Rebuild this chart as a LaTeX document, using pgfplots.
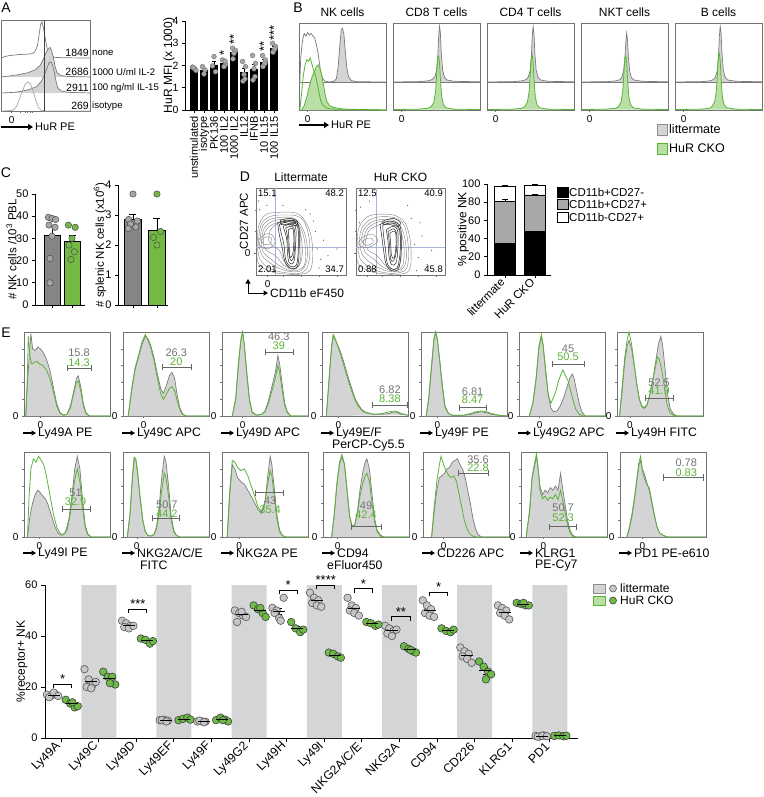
\documentclass[border=0pt]{standalone}
\usepackage{fontspec}
\setmainfont{Liberation Sans}
\setsansfont{Liberation Sans}
\usepackage{pgfplots}
\pgfplotsset{compat=1.18}
\usetikzlibrary{arrows.meta}

\definecolor{hgray}{HTML}{D4D4D4}
\definecolor{hline}{HTML}{7A7A7A}
\definecolor{gline}{HTML}{5BB336}
\definecolor{gfill}{HTML}{B9DFA6}
\definecolor{cgray}{HTML}{858585}
\definecolor{cgreen}{HTML}{73B944}
\definecolor{dgray}{HTML}{A8A8A8}
\definecolor{band}{HTML}{D4D5D7}
\definecolor{dotgray}{HTML}{C6C6C6}
\definecolor{dotgreen}{HTML}{6CBB44}
\definecolor{quad}{HTML}{A9B4D8}

\pgfplotsset{
  every axis/.append style={/pgf/number format/assume math mode=true,
    tick label style={font=\fontsize{10}{11}\selectfont},
    label style={font=\fontsize{12}{13}\selectfont}},
  hist/.style={scale only axis, anchor=north west, xmin=0, xmax=100, ymin=0, ymax=100, clip=false,
    axis line style={draw=black!55, line width=0.6pt}, tick style={black!55, line width=0.5pt},
    tick align=outside, tick pos=left, major tick length=2pt, minor tick length=1.5pt},
  ehist/.style n args={3}{hist, width=86pt, height=#3, at={(#1)}, xtick={#2}, xticklabels={0},
    ytick={0,20,40,60,80}, yticklabels={0,,,,}},
  bbox/.style 2 args={hist, width=87pt, height=87pt, at={(#1)}, xtick={10}, xticklabels={0}, ytick=\empty,
    title={#2}, title style={font=\fontsize{12}{12}\selectfont, yshift=-3pt}},
  bars/.style={scale only axis, anchor=south west, axis x line=bottom, axis y line=left,
    axis line style={-, line width=0.8pt}, tick align=outside, major tick length=3pt,
    tick style={line width=0.8pt, black}, clip=false,
    tick label style={font=\fontsize{11}{11}\selectfont}},
}
\tikzset{
  hf/.style={fill=hgray, draw=hline, line width=0.7pt},
  gl/.style={draw=gline, line width=0.8pt},
  gate/.style={black!60, line width=0.8pt, |-|},
  gnum/.style={text=black!55, font=\fontsize{11}{11}\selectfont, inner sep=0pt},
  cnum/.style={text=gline, font=\fontsize{11}{11}\selectfont, inner sep=0pt},
  cont/.style={black!50, line width=0.4pt, smooth, tension=0.6},
  contd/.style={black!85, line width=0.5pt, smooth, tension=0.6},
  qnum/.style={font=\fontsize{9.5}{10}\selectfont, inner sep=1pt},
}
\newcommand{\elab}[3]{\draw[line width=1.1pt,-{Triangle[length=4.5pt,width=5pt]}] ({#1-1pt},{#2}) -- ({#1+12pt},{#2});
  \node[anchor=west,inner sep=0pt] at ({#1+14pt},{#2}) {#3};}

\begin{document}
\begin{tikzpicture}[font=\fontsize{11}{13}\selectfont]
\useasboundingbox (0pt,0pt) rectangle (763pt,-797pt);

% panel letters
\node[font=\fontsize{14}{14}\selectfont] at (6pt,-8pt) {A};
\node[font=\fontsize{14}{14}\selectfont] at (298pt,-8pt) {B};
\node[font=\fontsize{14}{14}\selectfont] at (6pt,-173pt) {C};
\node[font=\fontsize{14}{14}\selectfont] at (245pt,-177pt) {D};
\node[font=\fontsize{14}{14}\selectfont] at (6pt,-333pt) {E};

% ================= A: offset histograms
\begin{axis}[hist, width=89pt, height=91pt, at={(1pt,-20pt)}, xtick={12}, xticklabels={0},
  minor xtick={22,27,30,33,35}, ytick=\empty]
\addplot[draw=hline, line width=0.7pt] coordinates {(0,58.2)(5,60)(10,61)(20,62)(30,62.5)(35,63)(38,65)(41,72)(43,85)(44.5,95)(46,98)(48,90)(50,78)(52,68)(55,62)(60,59)(70,58.5)(100,58.2)};
\addplot[hf] coordinates {(0,37.4)(10,38.5)(20,40)(30,42)(38,45)(44,50)(48,58)(51,65)(53,68)(55,70)(57,66)(59,58)(61,48)(63,42)(67,39)(75,38)(100,37.4)};
\addplot[hf] coordinates {(0,19.8)(15,20.5)(25,22)(33,24)(40,27)(45,32)(49,40)(52,48)(54,53)(56,54)(58,50)(60,42)(62,32)(64,25)(68,22)(75,20.5)(100,19.8)};
\addplot[draw=black!35, line width=0.7pt] coordinates {(0,0)(12,0.5)(15,2)(18,6)(21,14)(24,22)(27,29)(30,32)(33,30)(36,22)(39,12)(42,4)(45,1)(50,0)(100,0)};
\addplot[black!75, line width=1pt] coordinates {(49.4,0)(49.4,100)};
\end{axis}
\begin{scope}[font=\fontsize{10.5}{11}\selectfont]
\node[anchor=east, inner sep=1pt] at (90pt,-53pt) {1849};
\node[anchor=east, inner sep=1pt] at (90pt,-72pt) {2686};
\node[anchor=east, inner sep=1pt] at (90pt,-88pt) {2911};
\node[anchor=east, inner sep=1pt] at (90pt,-106pt) {269};
\end{scope}
\begin{scope}[font=\fontsize{9.6}{10}\selectfont]
\node[anchor=west, inner sep=1pt] at (91pt,-53pt) {none};
\node[anchor=west, inner sep=1pt] at (91pt,-72pt) {1000 U/ml IL-2};
\node[anchor=west, inner sep=1pt] at (91pt,-88pt) {100 ng/ml IL-15};
\node[anchor=west, inner sep=1pt] at (91pt,-106pt) {isotype};
\end{scope}
\draw[line width=1.3pt,-{Triangle[length=5pt,width=6pt]}] (1pt,-127pt) -- (33pt,-127pt);
\node[anchor=west, font=\fontsize{11}{11}\selectfont, inner sep=1pt] at (34pt,-127pt) {HuR PE};

% ================= A: bar chart
\begin{axis}[bars, width=92pt, height=89pt, at={(185pt,-110pt)}, xmin=0.1, xmax=9.3, ymin=0, ymax=4,
  ytick={0,1,2,3,4}, xtick={1,...,9},
  xticklabels={unstimulated,isotype,PK136,100 IL2,1000 IL2,IL12,IFNB,10 IL15,100 IL15},
  xticklabel style={rotate=90, anchor=east, font=\fontsize{11}{11}\selectfont},
  yticklabel style={font=\fontsize{10.5}{11}\selectfont},
  ylabel={HuR MFI (x 1000)}, ylabel style={at={(axis description cs:-0.175,0.5)}, anchor=center}]
\addplot[ybar, bar shift=0pt, bar width=7pt, fill=black, draw=black,
  error bars/.cd, y dir=plus, y explicit, error mark options={rotate=90, mark size=2pt, black}]
  coordinates {(1,1.85)+-(0,0.06)(2,1.8)+-(0,0.1)(3,2.03)+-(0,0.18)(4,2.11)+-(0,0.1)(5,2.6)+-(0,0.15)(6,1.69)+-(0,0.2)(7,1.85)+-(0,0.22)(8,2.16)+-(0,0.12)(9,2.78)+-(0,0.1)};
\addplot[only marks, mark=*, mark size=2.4pt, mark options={fill=black!35, draw=black!55, line width=0.4pt}]
  coordinates {(0.85,1.93)(1.05,1.86)(1.2,1.78)(0.95,1.9)
  (1.85,1.95)(2.1,1.8)(2.0,1.62)
  (3.0,2.4)(2.85,1.98)(3.15,1.72)
  (3.85,2.25)(4.15,2.05)(4.0,1.95)(4.1,2.2)
  (4.85,2.78)(5.15,2.68)(5.0,2.55)(4.9,2.3)
  (5.85,2.18)(6.15,1.95)(6.0,1.6)(5.9,1.3)(6.1,1.4)
  (6.85,2.45)(7.15,2.1)(7.0,1.85)(6.9,1.35)(7.1,1.5)
  (7.85,2.45)(8.15,2.25)(8.0,2.05)(7.9,1.95)(8.1,2.1)
  (8.85,3.0)(9.15,2.85)(9.0,2.7)(8.9,2.6)(9.1,2.75)};
\node[rotate=90, anchor=west, font=\fontsize{13}{13}\selectfont, inner sep=0pt] at (axis cs:4,2.45) {*};
\node[rotate=90, anchor=west, font=\fontsize{13}{13}\selectfont, inner sep=0pt] at (axis cs:5,2.95) {**};
\node[rotate=90, anchor=west, font=\fontsize{13}{13}\selectfont, inner sep=0pt] at (axis cs:8,2.6) {**};
\node[rotate=90, anchor=west, font=\fontsize{13}{13}\selectfont, inner sep=0pt] at (axis cs:9,3.12) {***};
\end{axis}

% ================= B
\begin{axis}[bbox={299pt,-23pt}{NK cells}]
\addplot[draw=hline, line width=0.7pt] coordinates {(0,32.2)(1,33)(2,60)(4,80)(6,88)(8,85)(10,89)(12,86)(14,88)(16,85)(18,83)(20,75)(22,65)(24,50)(26,40)(28,35)(30,33)(35,32.2)};
\addplot[hf] coordinates {(35,32.2)(40,33)(43,36)(45,50)(47,75)(48.5,92)(50,94)(51.5,88)(53,70)(55,48)(57,38)(60,34)(66,32.5)(100,32.2)};
\addplot[hline, line width=0.7pt] coordinates {(0,32.2)(100,32.2)};
\addplot[fill=gfill, draw=gline, line width=0.8pt] coordinates {(3,0)(6,5)(9,15)(12,28)(15,38)(18,45)(20,50)(22,52)(24,48)(26,40)(28,30)(30,18)(32,10)(35,5)(40,3)(45,2)(52,1)(100,0)};
\addplot[gl] coordinates {(1,0)(3,20)(5,40)(7,52)(9,58)(11,56)(13,60)(15,52)(17,45)(19,40)(21,30)(23,20)(25,10)(28,5)(32,2)(40,1)(100,0)};
\end{axis}
\begin{axis}[bbox={393pt,-23pt}{CD8 T cells}]
\addplot[hf] coordinates {(0,32.2)(30,32.6)(40,33.5)(45,35)(48,38)(50,45)(51.5,62)(52.5,85)(53.5,96.5)(54.5,88)(55.5,65)(57,46)(59,38)(62,34.5)(70,33)(100,32.4)};
\addplot[hline, line width=0.7pt] coordinates {(0,32.2)(100,32.2)};
\addplot[fill=gfill, draw=gline, line width=0.8pt] coordinates {(0,0.5)(30,1)(40,2)(44,4)(47,9)(49,22)(50.5,45)(51.5,60)(52.5,62)(53.5,54)(54.5,35)(56,15)(58,6)(61,2.5)(70,1)(100,0.5)};
\end{axis}
\begin{axis}[bbox={487pt,-23pt}{CD4 T cells}]
\addplot[hf] coordinates {(0,32.2)(30,32.6)(40,33.5)(45,35)(47.5,38)(49.5,45)(51,62)(52,85)(53,96)(54,88)(55,65)(56.5,46)(58.5,38)(61.5,34.5)(70,33)(100,32.4)};
\addplot[hline, line width=0.7pt] coordinates {(0,32.2)(100,32.2)};
\addplot[fill=gfill, draw=gline, line width=0.8pt] coordinates {(0,0.5)(30,1)(40,2)(43.5,4)(46.5,9)(48.5,22)(50,45)(51,61)(52,63)(53,54)(54,35)(55.5,15)(57.5,6)(60.5,2.5)(70,1)(100,0.5)};
\end{axis}
\begin{axis}[bbox={581pt,-23pt}{NKT cells}]
\addplot[hf] coordinates {(0,32.2)(30,32.6)(40,33.5)(45,35)(47,38)(49,45)(50.5,60)(51.5,78)(52.5,88.5)(53.5,80)(54.5,60)(56,44)(58,37)(61,34.5)(70,33)(100,32.4)};
\addplot[hline, line width=0.7pt] coordinates {(0,32.2)(100,32.2)};
\addplot[fill=gfill, draw=gline, line width=0.8pt] coordinates {(0,0.5)(30,1)(40,2)(43,4)(46,9)(48,22)(49.5,45)(50.5,60)(51.5,62)(52.5,54)(53.5,35)(55,15)(57,6)(60,2.5)(70,1)(100,0.5)};
\end{axis}
\begin{axis}[bbox={675pt,-23pt}{B cells}]
\addplot[hf] coordinates {(0,32.2)(30,32.6)(40,33.5)(44,35)(46.5,38)(48.5,45)(50,62)(51,85)(52,96)(53,88)(54,65)(55.5,46)(57.5,38)(60.5,34.5)(70,33)(100,32.4)};
\addplot[hline, line width=0.7pt] coordinates {(0,32.2)(100,32.2)};
\addplot[fill=gfill, draw=gline, line width=0.8pt] coordinates {(0,0.5)(30,1)(40,2)(42.5,4)(45.5,9)(47.5,22)(49,45)(50,62)(51,65)(52,56)(53,35)(54.5,15)(56.5,6)(59.5,2.5)(70,1)(100,0.5)};
\end{axis}
\draw[line width=1.3pt,-{Triangle[length=5pt,width=6pt]}] (299pt,-125pt) -- (329pt,-125pt);
\node[anchor=west, font=\fontsize{11}{11}\selectfont, inner sep=1pt] at (330pt,-125pt) {HuR PE};
\draw[fill=hgray, draw=black!45] (657pt,-124pt) rectangle (667pt,-135pt);
\node[anchor=west, inner sep=1pt, font=\fontsize{12.5}{13}\selectfont] at (668pt,-129.5pt) {littermate};
\draw[fill=gfill, draw=gline] (657pt,-143pt) rectangle (667pt,-154pt);
\node[anchor=west, inner sep=1pt, font=\fontsize{12.5}{13}\selectfont] at (668pt,-148.5pt) {HuR CKO};

% ================= C
\begin{axis}[bars, width=50pt, height=111pt, at={(35pt,-305pt)}, xmin=0.15, xmax=2.65, ymin=0, ymax=50,
  ytick={0,10,...,50}, xtick={1,2}, xticklabels={},
  ylabel={\# NK cells /10\textsuperscript{3} PBL}, ylabel style={font=\fontsize{11.5}{12}\selectfont, at={(axis description cs:-0.47,0.5)}, anchor=center}]
\addplot[ybar, bar shift=0pt, bar width=16pt, fill=cgray, draw=black, line width=0.6pt,
  error bars/.cd, y dir=plus, y explicit, error bar style={line width=0.8pt}, error mark options={rotate=90, mark size=3.5pt, line width=0.8pt}]
  coordinates {(1,31.2)+-(0,4)};
\addplot[ybar, bar shift=0pt, bar width=16pt, fill=cgreen, draw=black, line width=0.6pt,
  error bars/.cd, y dir=plus, y explicit, error bar style={line width=0.8pt}, error mark options={rotate=90, mark size=3.5pt, line width=0.8pt}]
  coordinates {(2,28.5)+-(0,2.8)};
\addplot[only marks, mark=*, mark size=3.2pt, mark options={fill=black!35, draw=black!70, line width=0.5pt}]
  coordinates {(0.82,39.5)(1.0,39)(1.18,38.5)(0.85,36)(1.15,35)(1.0,31)(0.9,21)(0.9,10)};
\addplot[only marks, mark=*, mark size=3.2pt, mark options={fill=cgreen, draw=black!70, line width=0.5pt}]
  coordinates {(1.82,36)(2.16,35)(2.0,30)(1.85,27)(2.12,24)(1.95,20.5)};
\end{axis}
\begin{axis}[bars, width=50pt, height=120pt, at={(118pt,-305pt)}, xmin=0.375, xmax=2.46, ymin=0, ymax=4,
  ytick={0,1,2,3,4}, xtick={1,2}, xticklabels={},
  ylabel={\# splenic NK cells (x10\textsuperscript{6})}, ylabel style={font=\fontsize{11.5}{12}\selectfont, at={(axis description cs:-0.36,0.5)}, anchor=center}]
\addplot[ybar, bar shift=0pt, bar width=17pt, fill=cgray, draw=black, line width=0.6pt,
  error bars/.cd, y dir=plus, y explicit, error bar style={line width=0.8pt}, error mark options={rotate=90, mark size=3.5pt, line width=0.8pt}]
  coordinates {(1,2.85)+-(0,0.17)};
\addplot[ybar, bar shift=0pt, bar width=17pt, fill=cgreen, draw=black, line width=0.6pt,
  error bars/.cd, y dir=plus, y explicit, error bar style={line width=0.8pt}, error mark options={rotate=90, mark size=3.5pt, line width=0.8pt}]
  coordinates {(2,2.5)+-(0,0.4)};
\addplot[only marks, mark=*, mark size=3.2pt, mark options={fill=black!35, draw=black!70, line width=0.5pt}]
  coordinates {(1.0,3.7)(0.82,2.85)(1.18,2.8)(0.9,2.7)(1.12,2.6)(0.8,2.55)};
\addplot[only marks, mark=*, mark size=3.2pt, mark options={fill=cgreen, draw=black!70, line width=0.5pt}]
  coordinates {(2.0,3.7)(2.15,2.45)(1.85,2.25)(2.0,2.0)};
\end{axis}

% ================= D contours
\begin{axis}[hist, width=90pt, height=87pt, at={(256pt,-188pt)}, xtick={13}, xticklabels={0}, ytick={25}, yticklabels={0},
  minor xtick={30,50,70,90}, minor ytick={50,75}, title={Littermate}, title style={font=\fontsize{12}{12}\selectfont, yshift=-3pt}]
\addplot[quad, line width=0.7pt] coordinates {(22,0)(22,100)};
\addplot[quad, line width=0.7pt] coordinates {(0,32)(100,32)};
\addplot[cont] coordinates {(1,25)(2,50)(5,62)(12,70)(25,72)(40,72)(50,68)(58,55)(62,40)(63,20)(60,5)(50,1)(35,1)(20,3)(8,8)(2,15)(1,25)};
\addplot[cont] coordinates {(2,28)(4,51)(8,62)(18,68)(32,69)(45,68)(53,62)(58,48)(60,30)(58,12)(52,3)(38,2)(22,5)(10,11)(4,19)(2,28)};
\addplot[cont] coordinates {(4,30)(6,52)(12,62)(25,66)(40,66)(48,60)(54,48)(57,32)(56,15)(50,5)(38,4)(25,8)(14,15)(7,22)(4,30)};
\addplot[cont] coordinates {(6,33)(8,51)(15,60)(28,64)(41,64)(48,57)(53,44)(55,28)(54,12)(48,6)(38,5)(27,10)(17,18)(9,25)(6,33)};
\addplot[cont] coordinates {(8,35)(10,50)(18,58)(30,61)(42,61)(48,52)(51,38)(51,20)(46,8)(38,7)(30,12)(22,22)(12,28)(8,35)};
\addplot[cont] coordinates {(14,40)(16,52)(24,59)(36,62)(45,60)(49,50)(50,32)(49,15)(44,8)(37,8)(31,16)(26,28)(18,34)(14,40)};
\addplot[cont] coordinates {(3,40)(10,47)(18,46)(21,37)(13,30)(5,33)(3,40)};
\addplot[cont] coordinates {(6,40)(12,44)(17,42)(16,36)(9,35)(6,40)};
\addplot[contd] coordinates {(24,60)(34,63)(45,61)(48,52)(48,30)(46,10)(38,8)(32,16)(29,32)(26,46)(24,60)};
\addplot[contd] coordinates {(26,58)(34,61)(44,59)(47,50)(47,30)(45,12)(38,10)(33,18)(31,35)(28,48)(26,58)};
\addplot[contd] coordinates {(30,56)(38,58)(44,55)(44,35)(42,15)(37,14)(35,25)(34,42)(30,56)};
\addplot[contd] coordinates {(33,54)(40,56)(43,50)(43,32)(41,18)(38,18)(36,30)(35,44)(33,54)};
\addplot[contd] coordinates {(36,52)(41,53)(42,40)(41,25)(38,20)(37,30)(36,52)};
\addplot[contd] coordinates {(27,63)(38,65)(46,62)(45,57)(35,58)(28,58)(27,63)};
\addplot[contd] coordinates {(30,61)(40,63)(44,60)(38,59)(30,61)};
\addplot[only marks, mark=*, mark size=0.35pt, black!60] coordinates {(68,30)(72,18)(66,50)(75,40)(70,8)(80,22)(4,75)(12,80)(30,80)(55,75)(85,10)(64,62)(20,90)(90,30)(60,70)(3,85)};
\node[qnum, anchor=north west] at (axis cs:1,99) {15.1};
\node[qnum, anchor=north east] at (axis cs:99,99) {48.2};
\node[qnum, anchor=south west] at (axis cs:1,1) {2.01};
\node[qnum, anchor=south east] at (axis cs:99,1) {34.7};
\end{axis}
\begin{axis}[hist, width=89pt, height=87pt, at={(356pt,-188pt)}, xtick={13}, xticklabels={}, ytick={25}, yticklabels={},
  minor xtick={30,50,70,90}, minor ytick={50,75}, title={HuR CKO}, title style={font=\fontsize{12}{12}\selectfont, yshift=-3pt}]
\addplot[quad, line width=0.7pt] coordinates {(22.5,0)(22.5,100)};
\addplot[quad, line width=0.7pt] coordinates {(0,32)(100,32)};
\addplot[cont] coordinates {(1,22)(2,48)(6,60)(15,68)(30,70)(45,68)(55,60)(60,45)(62,25)(60,6)(50,1)(35,1)(20,3)(8,8)(2,14)(1,22)};
\addplot[cont] coordinates {(3,26)(5,49)(11,60)(22,66)(36,67)(48,64)(55,55)(58,40)(59,22)(57,8)(50,3)(37,2)(23,5)(12,11)(5,18)(3,26)};
\addplot[cont] coordinates {(5,30)(8,50)(16,60)(30,64)(44,62)(52,52)(56,35)(56,15)(50,5)(38,4)(26,8)(15,15)(8,22)(5,30)};
\addplot[cont] coordinates {(8,33)(11,50)(20,59)(33,62)(45,59)(51,47)(54,30)(53,13)(48,6)(39,5)(29,10)(19,19)(11,25)(8,33)};
\addplot[cont] coordinates {(10,35)(14,50)(24,57)(36,60)(46,56)(50,42)(51,22)(47,8)(40,7)(32,12)(24,22)(14,28)(10,35)};
\addplot[cont] coordinates {(3,38)(10,45)(20,46)(24,38)(14,32)(5,33)(3,38)};
\addplot[cont] coordinates {(7,38)(12,42)(18,42)(19,37)(12,34)(7,38)};
\addplot[contd] coordinates {(27,58)(38,62)(49,57)(51,40)(50,18)(47,6)(40,5)(34,12)(31,28)(29,44)(27,58)};
\addplot[contd] coordinates {(30,57)(40,60)(48,55)(50,40)(49,20)(46,8)(40,7)(35,14)(33,30)(31,45)(30,57)};
\addplot[contd] coordinates {(34,52)(42,56)(47,50)(47,30)(45,14)(40,12)(37,22)(36,38)(34,52)};
\addplot[contd] coordinates {(36,50)(43,53)(46,44)(45,25)(42,16)(39,18)(38,30)(37,42)(36,50)};
\addplot[contd] coordinates {(38,48)(44,50)(45,35)(43,20)(40,22)(39,35)(38,48)};
\addplot[contd] coordinates {(30,62)(42,65)(50,60)(47,56)(38,58)(31,58)(30,62)};
\addplot[only marks, mark=*, mark size=0.35pt, black!60] coordinates {(66,35)(70,20)(74,45)(62,65)(80,12)(5,78)(15,85)(58,80)(85,28)(68,5)(4,60)(72,60)};
\node[qnum, anchor=north west] at (axis cs:1,99) {12.5};
\node[qnum, anchor=north east] at (axis cs:99,99) {40.9};
\node[qnum, anchor=south west] at (axis cs:1,1) {0.88};
\node[qnum, anchor=south east] at (axis cs:99,1) {45.8};
\end{axis}
\draw[line width=1pt,-{Triangle[length=4.5pt,width=5pt]}] (248pt,-293pt) -- (248pt,-279pt);
\draw[line width=1pt,-{Triangle[length=4.5pt,width=5pt]}] (248pt,-293pt) -- (268pt,-293pt);
\node[rotate=90, font=\fontsize{11.5}{12}\selectfont] at (244pt,-221pt) {CD27 APC};
\node[anchor=west, inner sep=1pt, font=\fontsize{12}{12}\selectfont] at (269pt,-293pt) {CD11b eF450};

% ================= D stacked bar
\begin{axis}[bars, ybar stacked, bar width=21pt, width=64pt, height=91pt, at={(487pt,-275pt)},
  xmin=0.4, xmax=2.53, ymin=0, ymax=100, ytick={0,20,...,100}, xtick={1,2},
  xticklabels={littermate,HuR CKO}, xticklabel style={rotate=45, anchor=east, font=\fontsize{11.5}{12}\selectfont},
  ylabel={\% positive NK}, ylabel style={at={(axis description cs:-0.37,0.5)}, anchor=center}]
\addplot[fill=black, draw=black] coordinates {(1,35)(2,48)};
\addplot[fill=dgray, draw=black, error bars/.cd, y dir=plus, y explicit, error mark options={rotate=90, mark size=3pt}]
  coordinates {(1,46)+-(0,2)(2,40)+-(0,0.4)};
\addplot[fill=white, draw=black, error bars/.cd, y dir=plus, y explicit, error mark options={rotate=90, mark size=3pt}]
  coordinates {(1,16.5)+-(0,1.2)(2,11)+-(0,0.4)};
\end{axis}
\begin{scope}[font=\fontsize{11.5}{12}\selectfont]
\draw[fill=black] (557pt,-187pt) rectangle (568pt,-197pt);
\node[anchor=west, inner sep=1pt] at (568pt,-192pt) {CD11b+CD27-};
\draw[fill=dgray, draw=black] (557pt,-199pt) rectangle (568pt,-209pt);
\node[anchor=west, inner sep=1pt] at (568pt,-204pt) {CD11b+CD27+};
\draw[fill=white, draw=black] (557pt,-212pt) rectangle (568pt,-222pt);
\node[anchor=west, inner sep=1pt] at (568pt,-217pt) {CD11b-CD27+};
\end{scope}

% ================= E histograms row 1
\begin{scope}[font=\fontsize{12.3}{13}\selectfont]
\begin{axis}[ehist={24pt,-332pt}{19}{84pt}]
\addplot[hf] coordinates {(2,0)(4,40)(6,70)(8,98)(10,80)(13,78)(16,82)(19,80)(22,76)(26,68)(30,55)(34,35)(38,15)(42,4)(46,1)(50,2)(54,12)(58,30)(61,45)(63,48)(66,35)(69,15)(72,4)(76,0)(100,0)};
\addplot[gl] coordinates {(2,0)(4,50)(5,95)(7,70)(9,62)(12,64)(15,65)(18,62)(22,60)(26,55)(30,45)(34,30)(38,12)(42,3)(46,1)(50,2)(54,10)(58,28)(61,40)(63,42)(66,30)(69,12)(72,3)(76,0)(100,0)};
\addplot[gate] coordinates {(50,57)(79,57)};
\node[gnum] at (axis cs:64,75) {15.8};
\node[cnum] at (axis cs:64,64) {14.3};
\end{axis}
\begin{axis}[ehist={123pt,-332pt}{24}{84pt}]
\addplot[hf] coordinates {(6,0)(10,30)(14,55)(18,70)(22,85)(26,95)(29,92)(32,85)(36,70)(40,50)(44,32)(47,27)(50,35)(54,48)(57,52)(60,45)(63,25)(66,10)(69,3)(73,0)(100,0)};
\addplot[gl] coordinates {(6,0)(10,32)(14,57)(18,72)(22,88)(26,97)(29,90)(32,82)(36,66)(40,45)(44,26)(47,20)(50,25)(54,33)(57,35)(60,30)(63,18)(66,8)(69,2)(73,0)(100,0)};
\addplot[gate] coordinates {(45,58)(80,58)};
\node[gnum] at (axis cs:62,75) {26.3};
\node[cnum] at (axis cs:62,65) {20};
\end{axis}
\begin{axis}[ehist={222pt,-332pt}{24}{84pt}]
\addplot[hf] coordinates {(12,0)(16,20)(19,60)(22,90)(24,100)(26,85)(29,50)(32,20)(35,5)(40,1)(46,2)(50,6)(54,18)(58,35)(62,52)(65,72)(67,62)(70,38)(73,15)(76,5)(80,0)(100,0)};
\addplot[gl] coordinates {(12,0)(16,22)(19,62)(22,92)(24,100)(26,83)(29,48)(32,18)(35,4)(40,1)(46,2)(50,5)(54,15)(58,30)(62,45)(65,60)(67,52)(70,30)(73,12)(76,4)(80,0)(100,0)};
\addplot[gate] coordinates {(50,76)(84,76)};
\node[gnum] at (axis cs:66,94) {46.3};
\node[cnum] at (axis cs:66,84) {39};
\end{axis}
\begin{axis}[ehist={322pt,-332pt}{19}{84pt}]
\addplot[hf] coordinates {(5,0)(8,40)(11,80)(13,95)(15,92)(18,85)(22,75)(26,62)(30,48)(34,35)(38,22)(42,14)(46,8)(50,5)(56,3)(62,2)(70,2)(78,3)(84,5)(88,4)(92,2)(100,1)};
\addplot[gl] coordinates {(5,0)(8,42)(11,82)(13,97)(15,93)(18,84)(22,72)(26,58)(30,44)(34,31)(38,20)(42,12)(46,7)(50,4)(56,3)(62,2)(70,3)(78,5)(84,6)(88,5)(92,3)(100,1)};
\addplot[gate] coordinates {(58,13)(100,13)};
\node[gnum] at (axis cs:79,31) {6.82};
\node[cnum] at (axis cs:79,21) {8.38};
\end{axis}
\begin{axis}[ehist={421pt,-332pt}{19}{84pt}]
\addplot[hf] coordinates {(6,0)(9,20)(12,55)(15,90)(17,100)(19,92)(22,65)(25,35)(28,12)(32,3)(36,1)(50,1)(58,2)(64,4)(70,5)(76,4)(82,2)(90,1)(100,0)};
\addplot[gl] coordinates {(6,0)(9,22)(12,58)(15,92)(17,100)(19,90)(22,62)(25,32)(28,10)(32,3)(36,1)(50,1)(58,3)(64,5)(70,6)(76,5)(82,3)(90,1)(100,0)};
\addplot[gate] coordinates {(44,10)(77,10)};
\node[gnum] at (axis cs:60,29) {6.81};
\node[cnum] at (axis cs:60,19) {8.47};
\end{axis}
\begin{axis}[ehist={519pt,-332pt}{24}{84pt}]
\addplot[hf] coordinates {(12,0)(16,15)(20,45)(23,80)(26,95)(28,85)(31,55)(34,25)(37,10)(40,5)(44,6)(48,12)(52,22)(56,35)(59,45)(62,50)(64,45)(67,30)(70,15)(73,5)(77,0)(100,0)};
\addplot[gl] coordinates {(12,0)(16,15)(20,46)(23,82)(26,97)(28,84)(31,52)(34,25)(37,15)(40,22)(43,30)(46,42)(49,50)(51,55)(54,48)(57,42)(60,30)(63,18)(66,8)(70,2)(75,0)(100,0)};
\addplot[gate] coordinates {(38,62)(76,62)};
\node[gnum] at (axis cs:57,80) {45};
\node[cnum] at (axis cs:57,70) {50.5};
\end{axis}
\begin{axis}[ehist={617pt,-332pt}{15}{84pt}]
\addplot[hf] coordinates {(3,0)(6,30)(9,65)(12,85)(14,90)(17,80)(20,60)(23,38)(26,20)(29,12)(32,10)(35,14)(38,25)(42,45)(45,65)(48,85)(51,95)(53,85)(56,55)(59,25)(62,8)(66,2)(70,0)(100,0)};
\addplot[gl] coordinates {(3,0)(6,35)(9,70)(12,92)(14,100)(17,85)(20,62)(23,38)(26,20)(29,11)(32,9)(35,13)(38,25)(41,40)(44,55)(47,70)(49,68)(52,55)(55,35)(58,15)(61,5)(65,1)(70,0)(100,0)};
\addplot[gate] coordinates {(33,21)(66,21)};
\node[gnum] at (axis cs:49,40) {52.5};
\node[cnum] at (axis cs:49,30) {41.9};
\end{axis}
\elab{24pt}{-433pt}{Ly49A PE}
\elab{123pt}{-433pt}{Ly49C APC}
\elab{222pt}{-433pt}{Ly49D APC}
\elab{322pt}{-433pt}{Ly49E/F}
\node[anchor=west, inner sep=0pt] at (332pt,-445pt) {PerCP-Cy5.5};
\elab{421pt}{-433pt}{Ly49F PE}
\elab{519pt}{-433pt}{Ly49G2 APC}
\elab{617pt}{-433pt}{Ly49H FITC}

% ================= E histograms row 2
\begin{axis}[ehist={24pt,-452pt}{18}{85pt}]
\addplot[hf] coordinates {(4,0)(7,25)(10,40)(13,50)(16,55)(19,52)(22,48)(25,45)(28,38)(32,25)(36,12)(40,4)(44,2)(48,5)(52,20)(56,50)(59,80)(62,95)(65,80)(68,45)(71,15)(74,4)(78,0)(100,0)};
\addplot[gl] coordinates {(4,0)(6,50)(8,80)(11,92)(14,88)(17,95)(20,90)(23,85)(26,72)(30,50)(34,28)(38,12)(42,4)(46,3)(50,8)(54,28)(57,55)(60,72)(62,80)(65,65)(68,35)(71,12)(74,3)(78,0)(100,0)};
\addplot[gate] coordinates {(44,33)(78,33)};
\node[gnum] at (axis cs:60,52) {51};
\node[cnum] at (axis cs:60,41) {32.9};
\end{axis}
\begin{axis}[ehist={123pt,-452pt}{16}{85pt}]
\addplot[hf] coordinates {(5,0)(8,25)(11,70)(13,92)(15,90)(17,75)(20,45)(23,20)(26,6)(29,2)(32,1)(36,3)(39,12)(42,35)(45,70)(48,95)(50,88)(53,60)(56,25)(59,8)(62,2)(66,0)(100,0)};
\addplot[gl] coordinates {(5,0)(8,26)(11,72)(13,94)(15,92)(17,77)(20,46)(23,20)(26,6)(29,2)(32,1)(36,3)(39,10)(42,28)(45,55)(48,75)(50,70)(53,48)(56,20)(59,6)(62,2)(66,0)(100,0)};
\addplot[gate] coordinates {(34,22)(66,22)};
\node[gnum] at (axis cs:51,38) {50.7};
\node[cnum] at (axis cs:51,28) {44.2};
\end{axis}
\begin{axis}[ehist={222pt,-452pt}{20}{85pt}]
\addplot[hf] coordinates {(6,0)(9,50)(12,85)(15,80)(18,70)(22,65)(26,62)(30,55)(34,48)(38,40)(42,32)(46,28)(50,40)(53,70)(56,95)(58,85)(61,55)(64,25)(67,8)(70,2)(74,0)(100,0)};
\addplot[gl] coordinates {(6,0)(9,55)(12,90)(15,88)(18,82)(22,78)(26,80)(30,72)(34,60)(38,48)(42,35)(46,30)(50,42)(53,62)(56,78)(58,72)(61,45)(64,20)(67,6)(70,2)(74,0)(100,0)};
\addplot[gate] coordinates {(38,52)(72,52)};
\node[gnum] at (axis cs:56,43) {43};
\node[cnum] at (axis cs:56,32) {35.4};
\end{axis}
\begin{axis}[ehist={323pt,-452pt}{17}{85pt}]
\addplot[hf] coordinates {(10,0)(13,25)(16,60)(19,85)(22,95)(25,85)(28,55)(31,25)(34,12)(37,15)(40,30)(43,55)(46,75)(49,88)(51,92)(54,80)(57,50)(60,22)(63,8)(67,2)(71,0)(100,0)};
\addplot[gl] coordinates {(10,0)(13,26)(16,62)(19,87)(22,97)(25,86)(28,55)(31,24)(34,12)(37,14)(40,28)(43,48)(46,62)(49,72)(51,75)(54,65)(57,40)(60,18)(63,6)(67,1)(71,0)(100,0)};
\addplot[gate] coordinates {(33,12)(68,12)};
\node[gnum] at (axis cs:50,37) {49};
\node[cnum] at (axis cs:50,26) {42.4};
\end{axis}
\begin{axis}[ehist={423pt,-452pt}{24}{85pt}]
\addplot[hf] coordinates {(10,0)(13,30)(16,55)(19,70)(22,72)(25,75)(28,80)(31,82)(34,88)(37,90)(40,92)(43,85)(46,80)(49,70)(52,55)(55,40)(58,22)(61,10)(64,3)(68,0)(100,0)};
\addplot[gl] coordinates {(10,0)(13,35)(16,65)(19,85)(21,95)(24,85)(27,78)(30,72)(33,70)(36,72)(39,65)(42,50)(45,35)(48,20)(51,10)(54,4)(58,1)(62,0)(100,0)};
\addplot[gate] coordinates {(41,75)(77,75)};
\node[gnum] at (axis cs:64,91) {35.6};
\node[cnum] at (axis cs:64,81) {22.8};
\end{axis}
\begin{axis}[ehist={521pt,-452pt}{26}{85pt}]
\addplot[hf] coordinates {(6,0)(10,30)(13,70)(16,85)(18,95)(20,80)(22,60)(25,50)(28,55)(31,52)(34,58)(37,55)(40,60)(43,55)(46,75)(48,60)(51,40)(54,20)(57,8)(60,2)(64,0)(100,0)};
\addplot[gl] coordinates {(6,0)(10,32)(13,72)(16,88)(18,98)(20,80)(22,55)(25,45)(28,48)(31,43)(34,47)(37,45)(40,50)(43,44)(46,55)(48,45)(51,30)(54,15)(57,5)(60,1)(64,0)(100,0)};
\addplot[gate] coordinates {(33,12)(65,12)};
\node[gnum] at (axis cs:49,34) {50.7};
\node[cnum] at (axis cs:49,23) {52.3};
\end{axis}
\begin{axis}[ehist={620pt,-452pt}{26}{85pt}]
\addplot[hf] coordinates {(8,0)(11,10)(14,25)(17,45)(20,70)(22,85)(24,90)(26,80)(28,75)(31,65)(34,55)(37,40)(40,25)(43,12)(46,5)(50,2)(55,0)(100,0)};
\addplot[gl] coordinates {(8,0)(11,12)(14,28)(17,48)(20,72)(22,88)(24,95)(26,78)(28,70)(31,62)(34,58)(37,42)(40,26)(43,12)(46,5)(50,2)(55,0)(100,0)};
\addplot[gate] coordinates {(50,70)(98,70)};
\node[gnum] at (axis cs:77,87) {0.78};
\node[cnum] at (axis cs:77,76) {0.83};
\end{axis}
\elab{24pt}{-553pt}{Ly49I PE}
\elab{123pt}{-553pt}{NKG2A/C/E}
\node[anchor=west, inner sep=0pt] at (140pt,-565pt) {FITC};
\elab{222pt}{-553pt}{NKG2A PE}
\elab{323pt}{-553pt}{CD94}
\node[anchor=west, inner sep=0pt] at (327pt,-565pt) {eFluor450};
\elab{423pt}{-553pt}{CD226 APC}
\elab{521pt}{-553pt}{KLRG1}
\node[anchor=west, inner sep=0pt] at (535pt,-565pt) {PE-Cy7};
\elab{620pt}{-553pt}{PD1 PE-e610}
\end{scope}

% ================= E dot plot
\begin{axis}[bars, width=533pt, height=153pt, at={(45pt,-738pt)}, xmin=-0.43, xmax=13.75, ymin=0, ymax=60,
  axis line style={-, line width=1pt}, tick style={line width=1pt, black}, major tick length=4pt,
  ytick={0,20,40,60}, xtick={0,...,13},
  xticklabels={Ly49A,Ly49C,Ly49D,Ly49EF,Ly49F,Ly49G2,Ly49H,Ly49I,NKG2A/C/E,NKG2A,CD94,CD226,KLRG1,PD1},
  xticklabel style={rotate=45, anchor=east, font=\fontsize{12.3}{12}\selectfont},
  yticklabel style={font=\fontsize{11}{11}\selectfont},
  ylabel={\%receptor+ NK}, ylabel style={at={(axis description cs:-0.043,0.5)}, anchor=center}]
\addplot[ybar, bar shift=0pt, bar width=35pt, fill=band, draw=none] coordinates {(1,60)(3,60)(5,60)(7,60)(9,60)(11,60)(13,60)};
\addplot[only marks, mark=*, mark size=3.8pt, mark options={fill=dotgray, draw=black!65, line width=0.6pt}] coordinates {
(-0.38,17)(-0.27,16.5)(-0.16,17.2)(-0.32,16)(-0.2,17.8)(-0.08,16.5)
(0.62,27)(0.73,23)(0.84,21)(0.68,20)(0.8,19.5)(0.92,22)
(1.62,46)(1.73,45)(1.84,44)(1.68,43.5)(1.8,43)(1.92,44)
(2.62,7)(2.73,7.2)(2.84,6.8)(2.68,7)(2.8,6.5)
(3.62,6.5)(3.73,6.6)(3.84,6.4)(3.68,6.8)(3.8,6.2)
(4.62,50)(4.73,49)(4.84,48)(4.68,45.5)(4.8,49.5)(4.92,47.5)
(5.62,51)(5.73,50)(5.92,55)(5.68,49)(5.8,47)(5.84,46)
(6.62,57)(6.73,55)(6.84,54)(6.68,53)(6.8,52)(6.92,51.5)
(7.62,55)(7.73,52)(7.84,51)(7.68,50)(7.8,49)(7.92,48)
(8.62,44)(8.73,43)(8.84,42)(8.68,41)(8.8,40)(8.92,42.5)
(9.62,54)(9.73,52)(9.84,50.5)(9.68,49)(9.8,48)(9.92,47.5)
(10.62,35.5)(10.73,34)(10.84,33)(10.68,32)(10.8,31)(10.92,29.5)
(11.62,52)(11.73,51)(11.84,50)(11.68,49)(11.8,48)(11.92,46.5)
(12.62,0.8)(12.73,0.6)(12.84,1)(12.68,0.5)(12.8,0.9)(12.92,0.7)};
\addplot[only marks, mark=*, mark size=3.8pt, mark options={fill=dotgreen, draw=black!75, line width=0.6pt}] coordinates {
(0.12,15)(0.24,13.5)(0.36,12)(0.44,12.5)(0.3,14)
(1.12,26)(1.24,24)(1.36,24)(1.44,21)(1.3,21.5)
(2.12,39)(2.24,38.5)(2.36,37)(2.44,38)
(3.12,7)(3.24,7.5)(3.36,8)(3.44,7.2)
(4.12,7)(4.24,8)(4.36,7.2)(4.44,6.5)(4.3,7)
(5.12,52)(5.24,50.5)(5.36,49)(5.44,47.5)(5.3,51)
(6.12,45.5)(6.24,43)(6.36,41.5)(6.44,42.5)
(7.12,33.5)(7.24,33)(7.36,32)(7.44,31.5)
(8.12,45.5)(8.24,45)(8.36,44)(8.44,44.5)
(9.12,36)(9.24,35)(9.36,34)(9.44,33.5)(9.3,34.5)
(10.12,43)(10.24,42)(10.36,41.5)(10.44,42.5)
(11.12,30)(11.24,28)(11.36,26)(11.44,25)(11.3,23)
(12.12,53)(12.24,52.5)(12.36,52)(12.44,52)(12.3,53)
(13.12,0.8)(13.24,1)(13.36,0.7)(13.44,0.9)};
\addplot[only marks, mark=-, mark size=6pt, black, line width=0.9pt,
  error bars/.cd, y dir=both, y explicit, error bar style={line width=0.9pt, black}, error mark options={rotate=90, mark size=2.5pt, black}]
  coordinates {(-0.2,16.8)+-(0,0.3)(0.8,22.1)+-(0,1.1)(1.8,44.3)+-(0,0.45)(2.8,6.9)+-(0,0.1)(3.8,6.5)+-(0,0.1)(4.8,48.3)+-(0,0.7)(5.8,49.8)+-(0,1.3)(6.8,53.8)+-(0,0.8)(7.8,50.8)+-(0,1)(8.8,42.1)+-(0,0.6)(9.8,50.2)+-(0,1)(10.8,32.5)+-(0,0.9)(11.8,49.4)+-(0,0.8)(12.8,0.75)+-(0,0.1)
  (0.28,13.4)+-(0,0.5)(1.28,23.3)+-(0,0.9)(2.28,38.1)+-(0,0.4)(3.28,7.4)+-(0,0.2)(4.28,7.1)+-(0,0.25)(5.28,50)+-(0,0.8)(6.28,43.1)+-(0,0.85)(7.28,32.5)+-(0,0.5)(8.28,44.8)+-(0,0.3)(9.28,34.6)+-(0,0.45)(10.28,42.3)+-(0,0.35)(11.28,26.4)+-(0,1.2)(12.28,52.5)+-(0,0.2)(13.28,0.85)+-(0,0.1)};
\addplot[black, line width=0.9pt] coordinates {(-0.2,19.5)(-0.2,21)(0.28,21)(0.28,19.5)};
\addplot[black, line width=0.9pt] coordinates {(1.8,49)(1.8,50.5)(2.28,50.5)(2.28,49)};
\addplot[black, line width=0.9pt] coordinates {(5.8,56.5)(5.8,58)(6.28,58)(6.28,56.5)};
\addplot[black, line width=0.9pt] coordinates {(6.8,58.5)(6.8,60)(7.28,60)(7.28,58.5)};
\addplot[black, line width=0.9pt] coordinates {(7.8,57)(7.8,58.5)(8.28,58.5)(8.28,57)};
\addplot[black, line width=0.9pt] coordinates {(8.8,46)(8.8,47.5)(9.28,47.5)(9.28,46)};
\addplot[black, line width=0.9pt] coordinates {(9.8,55.5)(9.8,57)(10.28,57)(10.28,55.5)};
\begin{scope}[font=\fontsize{13}{13}\selectfont]
\node[anchor=south, inner sep=0.5pt] at (axis cs:0.04,21) {*};
\node[anchor=south, inner sep=0.5pt] at (axis cs:2.04,50.5) {***};
\node[anchor=south, inner sep=0.5pt] at (axis cs:6.04,58) {*};
\node[anchor=south, inner sep=0.5pt] at (axis cs:7.04,60) {****};
\node[anchor=south, inner sep=0.5pt] at (axis cs:8.04,58.5) {*};
\node[anchor=south, inner sep=0.5pt] at (axis cs:9.04,47.5) {**};
\node[anchor=south, inner sep=0.5pt] at (axis cs:10.04,57) {*};
\end{scope}
\end{axis}
\begin{scope}[font=\fontsize{12}{12}\selectfont]
\draw[fill=hgray, draw=black!45] (593pt,-584pt) rectangle (605pt,-593pt);
\draw[fill=dotgray, draw=black!65, line width=0.6pt] (613pt,-588.5pt) circle (3.5pt);
\node[anchor=west, inner sep=1pt] at (619pt,-588.5pt) {littermate};
\draw[fill=gfill, draw=gline] (593pt,-596pt) rectangle (605pt,-605pt);
\draw[fill=dotgreen, draw=black!75, line width=0.6pt] (613pt,-600.5pt) circle (3.5pt);
\node[anchor=west, inner sep=1pt] at (619pt,-600.5pt) {HuR CKO};
\end{scope}

\end{tikzpicture}
\end{document}
